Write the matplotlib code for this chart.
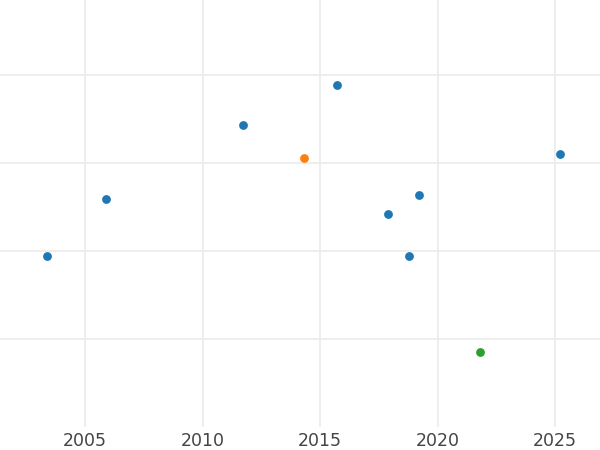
import matplotlib
matplotlib.use("Agg")
import matplotlib.pyplot as plt

years = [2003.4, 2005.9, 2011.7, 2015.7, 2017.9, 2019.2, 2018.8, 2025.2]
values = [1.94, 2.59, 3.43, 3.89, 2.42, 2.64, 1.94, 3.10]
orange_years = [2014.3]
orange_values = [3.06]
green_years = [2021.8]
green_values = [0.85]
x_ticks = [2005, 2010, 2015, 2020, 2025]
y_grid = [1, 2, 3, 4]

fig = plt.figure(figsize=(6, 4.5), dpi=100)
ax = fig.add_axes([0, 1 - 427 / 450, 1, 427 / 450])
ax.set_xlim(2001.38, 2026.91)
ax.set_ylim(0, 427 / 88)
ax.set_xticks(x_ticks)
ax.set_xticklabels([str(t) for t in x_ticks])
ax.set_yticks(y_grid)
ax.set_yticklabels([])
ax.grid(True, color="#ebebeb", linewidth=1.2)
ax.set_axisbelow(True)
for s in ax.spines.values():
    s.set_visible(False)
ax.tick_params(length=0, labelsize=12.5, labelcolor="#444444", pad=3.5)

ax.scatter(years, values, s=40, color="#1f77b4", zorder=3, linewidths=0)
ax.scatter(orange_years, orange_values, s=40, color="#ff7f0e", zorder=3, linewidths=0)
ax.scatter(green_years, green_values, s=40, color="#2ca02c", zorder=3, linewidths=0)

fig.savefig("out.png", dpi=100)
